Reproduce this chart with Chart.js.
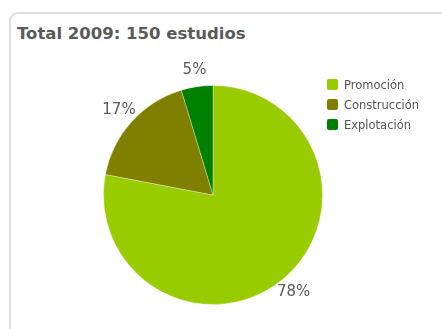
<!DOCTYPE html>
<html>
<head>
<meta charset="utf-8">
<script src="https://cdn.jsdelivr.net/npm/chart.js@4/dist/chart.umd.min.js"></script>
<style>
  html, body { margin: 0; padding: 0; background: #fff; width: 442px; height: 329px; overflow: hidden; }
  #panel {
    position: absolute; left: 9px; top: 12px; width: 460px; height: 340px;
    border: 2px solid #dedede; border-radius: 9px; box-sizing: border-box;
  }
  #title {
    position: absolute; left: 17px; top: 24px; margin: 0;
    font: bold 16.5px "DejaVu Sans", sans-serif; color: #5a5a5a; line-height: 20px;
  }
  #chart { position: absolute; left: 0; top: 0; }
  #legend { position: absolute; left: 327px; top: 78px; margin: 0; padding: 0; list-style: none; }
  #legend li {
    height: 20px; line-height: 14px; font: 11.5px "DejaVu Sans", sans-serif; color: #555;
    display: flex; align-items: flex-start;
  }
  #legend span.box { width: 11px; height: 11px; border-radius: 2px; margin: 1px 6px 0 0; flex: none; }
</style>
</head>
<body>
<div id="panel"></div>
<h3 id="title"></h3>
<canvas id="chart" width="442" height="329"></canvas>
<ul id="legend"></ul>
<script>
// Studies carried out in 2009, split by phase
const titleText = 'Total 2009: 150 estudios';
const categories = ['Promoción', 'Construcción', 'Explotación'];
const studies = [117, 26, 7];
const sliceColors = ['#99cc00', '#808000', '#008000'];

document.getElementById('title').textContent = titleText;

// Legend rows
const legend = document.getElementById('legend');
categories.forEach((name, i) => {
  const li = document.createElement('li');
  const box = document.createElement('span');
  box.className = 'box';
  box.style.background = sliceColors[i];
  li.appendChild(box);
  li.appendChild(document.createTextNode(name));
  legend.appendChild(li);
});

// Percentage labels just outside each slice
const percentLabels = {
  id: 'percentLabels',
  afterDatasetsDraw(chart) {
    const ctx = chart.ctx;
    const meta = chart.getDatasetMeta(0);
    const data = chart.data.datasets[0].data;
    const total = data.reduce((a, b) => a + b, 0);
    ctx.save();
    ctx.font = '15px "DejaVu Sans", sans-serif';
    ctx.fillStyle = '#5a5a5a';
    ctx.textAlign = 'center';
    ctx.textBaseline = 'middle';
    meta.data.forEach((arc, i) => {
      const mid = (arc.startAngle + arc.endAngle) / 2;
      const r = arc.outerRadius + 17;
      const x = arc.x + Math.cos(mid) * r;
      const y = arc.y + Math.sin(mid) * r;
      ctx.fillText(Math.round(data[i] / total * 100) + '%', x, y);
    });
    ctx.restore();
  }
};

new Chart(document.getElementById('chart'), {
  type: 'pie',
  data: {
    labels: categories,
    datasets: [{
      data: studies,
      backgroundColor: sliceColors,
      borderColor: 'rgba(255,255,255,0.35)',
      borderWidth: 1
    }]
  },
  options: {
    responsive: false,
    animation: false,
    layout: { padding: { left: 103, top: 85, right: 119, bottom: 24 } },
    plugins: {
      legend: { display: false },
      title: { display: false },
      tooltip: { enabled: false }
    }
  },
  plugins: [percentLabels]
});
</script>
</body>
</html>
